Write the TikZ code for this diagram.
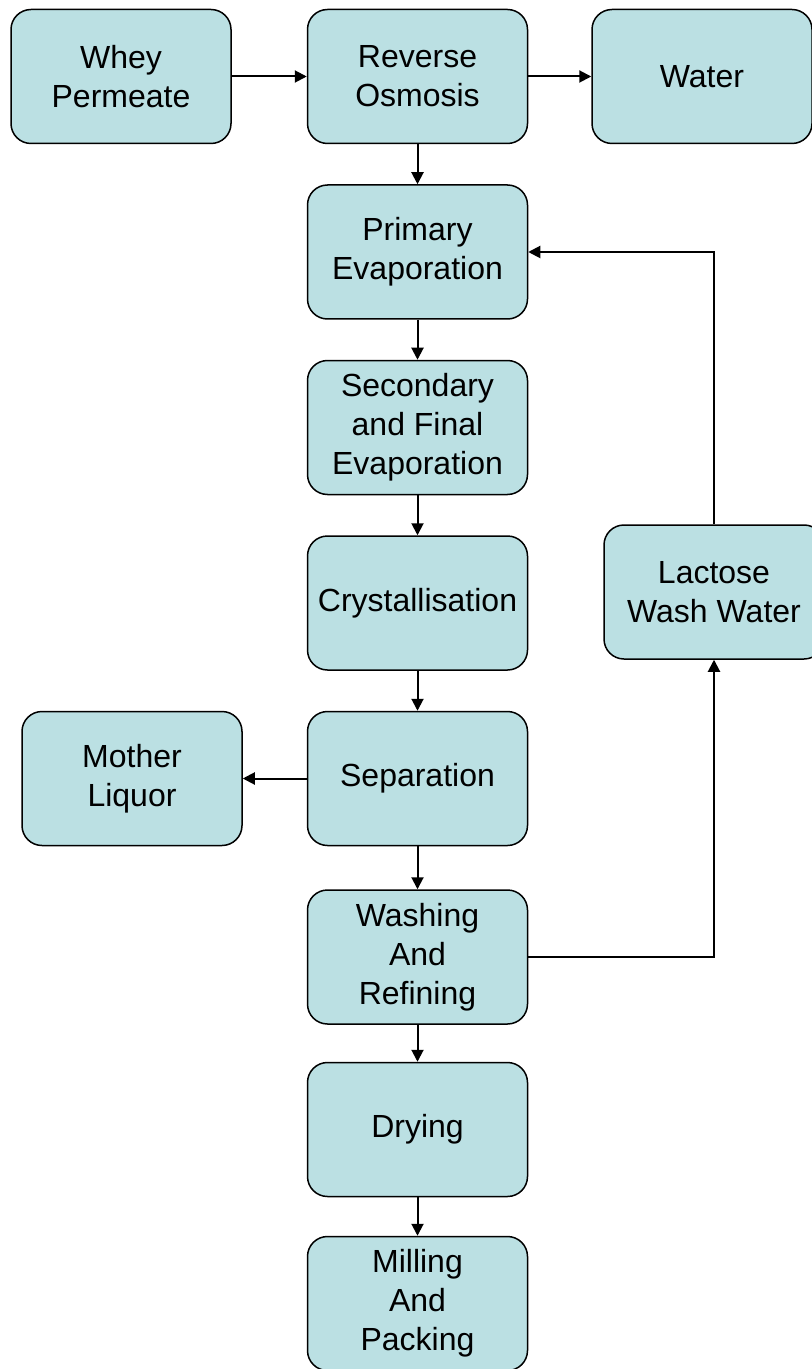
\documentclass[tikz,border=0pt]{standalone}
\usepackage{fontspec}
\setmainfont{Liberation Sans}
\usetikzlibrary{arrows.meta}
\definecolor{boxfill}{RGB}{187,224,227}

\begin{document}
\begin{tikzpicture}[node distance=87.75pt, anchor=center,
  stage/.style={rectangle, draw, rounded corners=10pt, line width=0.75pt, fill=boxfill,
    minimum width=110pt, minimum height=67pt, inner sep=2pt, align=center,
    font=\fontsize{16}{19.5}\selectfont},
  flow/.style={-{Triangle[length=6pt,width=6pt]}, line width=1pt}]
  \useasboundingbox (0,0) rectangle (405.5pt,-684.5pt);
  \node[stage] (osmosis) at (208.75pt,-38.25pt) {Reverse\\Osmosis};
   \node[stage, left of=osmosis, node distance=148.25pt] (whey) {Whey\\Permeate};
   \node[stage, right of=osmosis, node distance=142.25pt] (water) {Water};
   \node[stage, below of=osmosis] (primary) {Primary\\Evaporation};
   \node[stage, below of=primary] (secondary) {Secondary\\and Final\\Evaporation};
   \node[stage, below of=secondary] (crystal) {Crystallisation};
   \node[stage, below of=crystal] (separation) {Separation};
   \node[stage, left of=separation, node distance=142.75pt] (liquor) {Mother\\Liquor};
   \node[stage, below of=separation, node distance=89.25pt] (washing) {Washing\\And\\Refining};
   \node[stage, below of=washing, node distance=86.25pt] (drying) {Drying};
   \node[stage, below of=drying, node distance=87pt] (milling) {Milling\\And\\Packing};
   \node[stage, right of=crystal, node distance=148.25pt, yshift=5.5pt] (washwater) {Lactose\\Wash Water};
   % main line
   \draw[flow] (whey) -- (osmosis);
   \draw[flow] (osmosis) -- (water);
   \draw[flow] (osmosis) -- (primary);
   \draw[flow] (primary) -- (secondary);
   \draw[flow] (secondary) -- (crystal);
   \draw[flow] (crystal) -- (separation);
   \draw[flow] (separation) -- (liquor);
   \draw[flow] (separation) -- (washing);
   \draw[flow] (washing) -- (drying);
   \draw[flow] (drying) -- (milling);
   % wash water loop
   \draw[flow] (washing.east) -| (washwater.south);
   \draw[flow] (washwater.north) |- (primary.east);
 \end{tikzpicture}
\end{document}
